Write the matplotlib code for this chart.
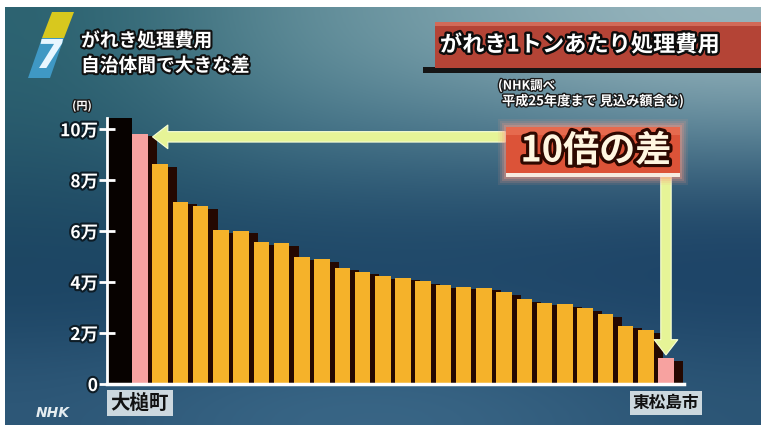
import numpy as np
import matplotlib
matplotlib.use("Agg")
import matplotlib.pyplot as plt
import matplotlib.patheffects as pe
from matplotlib.patches import Rectangle, Polygon

plt.rcParams['font.family'] = ['Noto Sans CJK JP', 'DejaVu Sans']

# ---------------- data ----------------
municipalities = ["大槌町"] + [""] * 25 + ["東松島市"]
cost_per_ton = [98300, 86200, 71500, 69800, 60400, 60100, 55600, 55200, 49700, 49000,
                45700, 44100, 42400, 41700, 40400, 38700, 38200, 37800, 36000, 33300,
                31900, 31300, 29700, 27400, 22800, 21200, 10100]
highlight = [0, 26]
y_ticks = [0, 20000, 40000, 60000, 80000, 100000]
y_tick_labels = ["0", "2万", "4万", "6万", "8万", "10万"]

title_left = ["がれき処理費用", "自治体間で大きな差"]
banner_title = "がれき1トンあたり処理費用"
source_note = ["(NHK調べ", "平成25年度まで 見込み額含む)"]
callout = "10倍の差"

# ---------------- figure ----------------
W, H = 761, 425
fig = plt.figure(figsize=(W / 100, H / 100), dpi=100, facecolor='white')

def hexrgb(h):
    h = h.lstrip('#')
    return [int(h[i:i + 2], 16) / 255 for i in (0, 2, 4)]

bg = fig.add_axes([0, 0, 1, 1], zorder=0)
grid_hex = [
    ['#2b6270', '#5f8c98', '#7ea3ad', '#9ab7bf'],
    ['#285a6c', '#447488', '#4c788c', '#5a8496'],
    ['#1f4a64', '#224d6b', '#234c6c', '#1f4668'],
    ['#1a4262', '#1d4566', '#1e4668', '#1c4266'],
    ['#2e5878', '#3a6888', '#3a6686', '#2c5676'],
]
grid = np.array([[hexrgb(c) for c in row] for row in grid_hex])
bg.imshow(grid, extent=[5, W, H, 7], interpolation='bicubic', aspect='auto')
bg.set_xlim(0, W)
bg.set_ylim(H, 0)
bg.axis('off')

# ---------------- main chart ----------------
x0_px, dx_px = 140.0, 20.23
xl = (107 - x0_px) / dx_px
xr = (684 - x0_px) / dx_px
ax = fig.add_axes([107 / W, (H - 384) / H, (684 - 107) / W, (384 - 118) / H], zorder=1)
ax.set_xlim(xl, xr)
ax.set_ylim(0, 104400)
ax.patch.set_alpha(0)

x = np.arange(len(cost_per_ton))
bw = 0.77
colors = ['#f7a2a0' if i in highlight else '#f5b22a' for i in x]

ax.axvspan(xl, -bw / 2, color='#070200', zorder=1, lw=0)
ax.bar(x + 0.45, [v - 1000 for v in cost_per_ton], width=bw, color='#240801', zorder=2, lw=0)
ax.bar(x, cost_per_ton, width=bw, color=colors, zorder=3, lw=0)

for s in ['top', 'right']:
    ax.spines[s].set_visible(False)
ax.spines['left'].set_color('white')
ax.spines['left'].set_linewidth(2)
ax.spines['bottom'].set_color('white')
ax.spines['bottom'].set_linewidth(2.5)
ax.spines['left'].set_zorder(6)
ax.spines['bottom'].set_zorder(6)

ax.set_yticks(y_ticks)
ax.set_yticklabels(y_tick_labels)
ax.tick_params(axis='y', colors='white', direction='inout', length=11, width=2, pad=1,
               labelsize=12.5)
for t in ax.get_yticklabels():
    t.set_fontweight('bold')
    t.set_path_effects([pe.withStroke(linewidth=3, foreground='#0d1c26')])

ax.set_xticks(x)
ax.set_xticklabels(municipalities)
ax.tick_params(axis='x', length=0, pad=7)
for i, t in enumerate(ax.get_xticklabels()):
    if municipalities[i]:
        t.set_fontweight('bold')
        t.set_color('#111111')
        t.set_fontsize(14 if i == 0 else 12)
        t.set_bbox(dict(boxstyle='square,pad=0.18', fc='#dbe4e8', ec='none', alpha=0.92))

arrow_kw = dict(arrowstyle='simple,head_length=1.1,head_width=1.7,tail_width=0.75',
                mutation_scale=10, fc='#e6f497', ec='#f8ffd6', lw=0.8,
                shrinkA=0, shrinkB=0)
ax.annotate('', xy=(0.62, cost_per_ton[0] - 1300), xytext=(18.05, cost_per_ton[0] - 1300),
            arrowprops=arrow_kw, annotation_clip=False, zorder=5)
ax.annotate('', xy=(26, cost_per_ton[-1] + 1300), xytext=(26, 82000),
            arrowprops=arrow_kw, annotation_clip=False, zorder=5)

# ---------------- overlay (texts, boxes) ----------------
ov = fig.add_axes([0, 0, 1, 1], zorder=2)
ov.set_xlim(0, W)
ov.set_ylim(H, 0)
ov.axis('off')
ov.patch.set_alpha(0)

stroke = [pe.withStroke(linewidth=3, foreground='#101010')]

# logo
ov.add_patch(Polygon([(52, 12), (74, 12), (64, 38), (42, 38)], closed=True, fc='#d8c81e', ec='none'))
ov.add_patch(Polygon([(42, 38), (64, 38), (50, 78), (28, 78)], closed=True, fc='#3f98c4', ec='none'))
ov.text(49, 57, "7", fontsize=28, fontweight='bold', style='italic', color='#e8f6ff',
        ha='center', va='center', family='DejaVu Sans')

ov.text(81, 41, title_left[0], fontsize=13.5, fontweight='bold', color='white',
        ha='left', va='center', path_effects=stroke)
ov.text(81, 66, title_left[1], fontsize=13.5, fontweight='bold', color='white',
        ha='left', va='center', path_effects=stroke)

# banner
ov.add_patch(Rectangle((423, 67), W - 423, 6, fc='#151515', ec='none'))
ov.add_patch(Rectangle((435, 22), W - 435, 46, fc='#b44436', ec='none'))
ov.add_patch(Rectangle((435, 22), W - 435, 4, fc='#d26a58', ec='none'))
ov.text(580, 45, banner_title, fontsize=16, fontweight='bold', color='white',
        ha='center', va='center', path_effects=[pe.withStroke(linewidth=3.5, foreground='#0c0c0c')])

ov.text(498, 86, source_note[0], fontsize=9, fontweight='bold', color='white',
        ha='left', va='center', path_effects=[pe.withStroke(linewidth=2, foreground='#1a1a1a')])
ov.text(502, 101, source_note[1], fontsize=9.5, fontweight='bold', color='white',
        ha='left', va='center', path_effects=[pe.withStroke(linewidth=2, foreground='#1a1a1a')])

ov.text(82, 106, "(円)", fontsize=8, fontweight='bold', color='white', ha='center', va='center',
        path_effects=[pe.withStroke(linewidth=2, foreground='#1a1a1a')])

# callout box with soft pink glow
for g, a in [(8, 0.10), (6, 0.14), (4, 0.2), (2, 0.3)]:
    ov.add_patch(Rectangle((506 - g, 127 - g), 174 + 2 * g, 50 + 2 * g,
                           fc='#ff9c86', ec='none', alpha=a))
ov.add_patch(Rectangle((506, 127), 174, 47, fc='#dc5338', ec='none'))
ov.add_patch(Rectangle((506, 127), 174, 8, fc='#e66a4e', ec='none'))
ov.add_patch(Rectangle((506, 173), 174, 4, fc='#f6ebe0', ec='none'))
ov.text(596, 151, callout, fontsize=26, fontweight='bold', color='#fff6e0',
        ha='center', va='center', path_effects=[pe.withStroke(linewidth=4.5, foreground='#2e0800')])

ov.text(53, 413, "NHK", fontsize=10, fontweight='bold', style='italic', color='#e4ecf0',
        ha='center', va='center', family='DejaVu Sans')

fig.savefig('out.png', dpi=100, facecolor='white')
